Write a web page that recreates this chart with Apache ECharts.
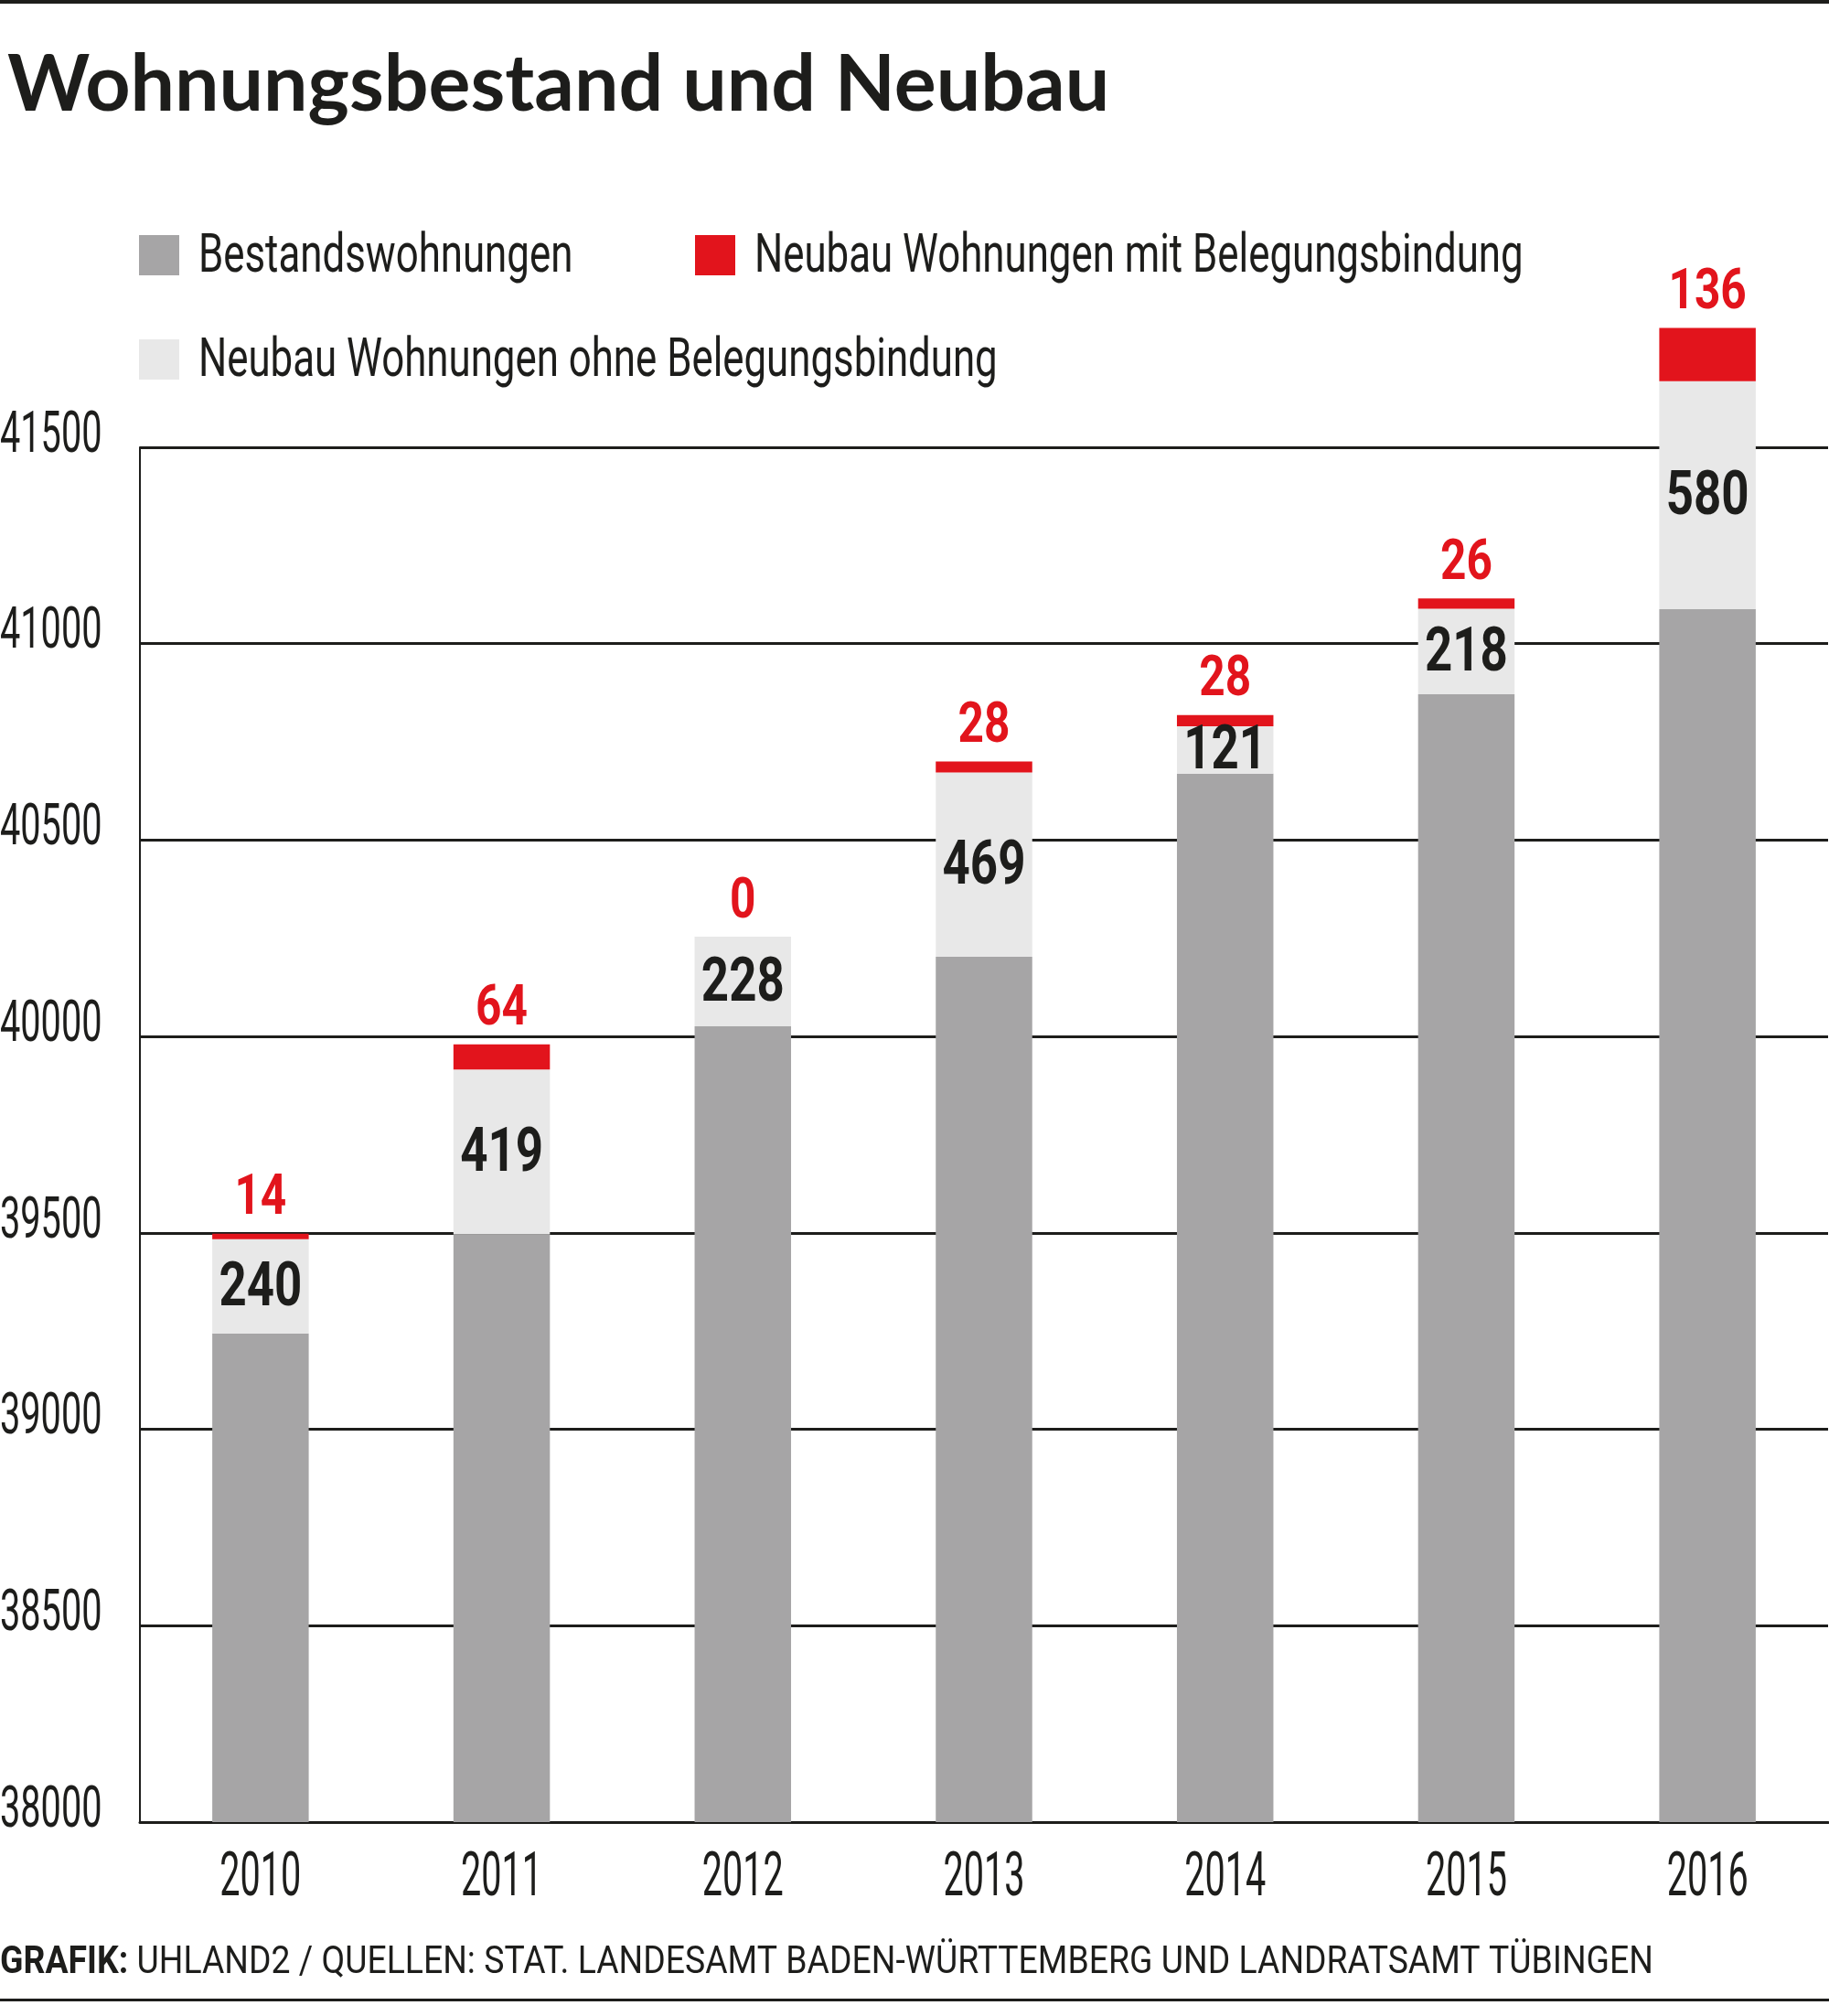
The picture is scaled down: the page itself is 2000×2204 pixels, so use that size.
<!DOCTYPE html>
<html>
<head>
<meta charset="utf-8">
<script src="https://cdn.jsdelivr.net/npm/echarts@6/dist/echarts.min.js"></script>
<style>
  html, body { margin: 0; padding: 0; background: #fff; }
  #chart { width: 2000px; height: 2204px; }
</style>
</head>
<body>
<div id="chart"></div>
<script>
// Daten aus der Grafik
var years = ['2010', '2011', '2012', '2013', '2014', '2015', '2016'];
var bestand = [39244, 39497, 40026, 40203, 40669, 40871, 41088];
var neubauOhne = [240, 419, 228, 469, 121, 218, 580];
var neubauMit = [14, 64, 0, 28, 28, 26, 136];
var yTicks = [38000, 38500, 39000, 39500, 40000, 40500, 41000, 41500];

var FONT = 'Roboto, "Liberation Sans", sans-serif';
var GRAY = '#a6a5a6';
var LIGHT = '#e8e8e8';
var RED = '#e2141c';
var INK = '#1d1d1b';
// keine Condensed-Schrift vorhanden -> Text horizontal stauchen
var NARROW_BOLD = 0.8;

var chart = echarts.init(document.getElementById('chart'));

// Beschriftung der Balken und Jahre, über die Achsen positioniert
function renderBarLabels(params, api) {
  var i = params.dataIndex;
  var base = bestand[i];
  var mid = api.coord([i, base + neubauOhne[i] / 2]);
  var top = api.coord([i, base + neubauOhne[i] + neubauMit[i]]);
  var bottom = api.coord([i, 38000]);
  return {
    type: 'group',
    children: [
      {
        type: 'text', x: mid[0], y: mid[1] + 4, scaleX: NARROW_BOLD,
        style: { text: String(neubauOhne[i]), font: 'bold 66px ' + FONT, fill: INK, align: 'center', verticalAlign: 'middle' }
      },
      {
        type: 'text', x: top[0], y: top[1] - 37, scaleX: NARROW_BOLD,
        style: { text: String(neubauMit[i]), font: 'bold 62px ' + FONT, fill: RED, align: 'center', verticalAlign: 'middle' }
      },
      {
        type: 'text', x: bottom[0], y: bottom[1] + 63, scaleX: 0.6,
        style: { text: years[i], font: '66px ' + FONT, fill: INK, align: 'center', verticalAlign: 'middle' }
      }
    ]
  };
}

function renderYLabels(params, api) {
  var v = yTicks[params.dataIndex];
  var p = api.coord([0, v]);
  return {
    type: 'text', x: 0, y: p[1] - 11, scaleX: 0.63,
    style: { text: String(v), font: '63px ' + FONT, fill: INK, align: 'left', verticalAlign: 'middle' }
  };
}

function legendItem(name, color, x, y) {
  return {
    type: 'group', x: x, y: y,
    children: [
      { type: 'rect', shape: { x: 0, y: 0, width: 44, height: 44 }, style: { fill: color } },
      {
        type: 'text', x: 65, y: 25, scaleX: 0.73,
        style: { text: name, font: '60px ' + FONT, fill: INK, verticalAlign: 'middle' }
      }
    ]
  };
}

var option = {
  backgroundColor: '#fff',
  animation: false,
  grid: {
    left: 153,
    right: 1,
    top: 489,
    bottom: 212,
    containLabel: false,
    outerBoundsMode: 'none'
  },
  xAxis: {
    type: 'category',
    data: years,
    axisLine: { show: true, lineStyle: { color: INK, width: 3 } },
    axisTick: { show: false },
    axisLabel: { show: false }
  },
  yAxis: {
    type: 'value',
    min: 38000,
    max: 41500,
    interval: 500,
    axisLine: { show: true, lineStyle: { color: INK, width: 2 } },
    axisTick: { show: false },
    axisLabel: { show: false },
    splitLine: { show: true, lineStyle: { color: INK, width: 3 } }
  },
  series: [
    {
      name: 'Bestandswohnungen',
      type: 'bar',
      stack: 'total',
      barWidth: '40%',
      clip: true,
      itemStyle: { color: GRAY },
      data: bestand
    },
    {
      name: 'Neubau Wohnungen ohne Belegungsbindung',
      type: 'bar',
      stack: 'total',
      clip: false,
      itemStyle: { color: LIGHT },
      data: neubauOhne
    },
    {
      name: 'Neubau Wohnungen mit Belegungsbindung',
      type: 'bar',
      stack: 'total',
      clip: false,
      itemStyle: { color: RED },
      data: neubauMit
    },
    {
      type: 'custom',
      name: 'labels',
      silent: true,
      clip: false,
      z: 10,
      renderItem: renderBarLabels,
      data: years.map(function (y, i) { return [i, bestand[i]]; })
    },
    {
      type: 'custom',
      name: 'yLabels',
      silent: true,
      clip: false,
      z: 10,
      renderItem: renderYLabels,
      data: yTicks.map(function (v) { return [0, v]; })
    }
  ],
  graphic: [
    // Linie oben
    { type: 'rect', left: 0, top: 0, shape: { width: 2000, height: 4 }, style: { fill: INK } },
    {
      type: 'text',
      left: 8,
      top: 50,
      style: {
        text: 'Wohnungsbestand und Neubau',
        font: 'bold 86px "Lato", "Roboto", sans-serif',
        fill: INK
      }
    },
    legendItem('Bestandswohnungen', GRAY, 152, 257),
    legendItem('Neubau Wohnungen mit Belegungsbindung', RED, 760, 257),
    legendItem('Neubau Wohnungen ohne Belegungsbindung', LIGHT, 152, 371),
    {
      type: 'text',
      x: 0,
      y: 2146,
      scaleX: 0.89,
      style: {
        text: '{b|GRAFIK:} UHLAND2 / QUELLEN: STAT. LANDESAMT BADEN-WÜRTTEMBERG UND LANDRATSAMT TÜBINGEN',
        font: '42px ' + FONT,
        fill: INK,
        verticalAlign: 'middle',
        rich: {
          b: { fontFamily: FONT, fontSize: 42, fontWeight: 'bold', fill: INK }
        }
      }
    },
    // Linie unten
    { type: 'rect', left: 0, top: 2185, shape: { width: 2000, height: 3 }, style: { fill: INK } }
  ]
};

chart.setOption(option);
</script>
</body>
</html>
